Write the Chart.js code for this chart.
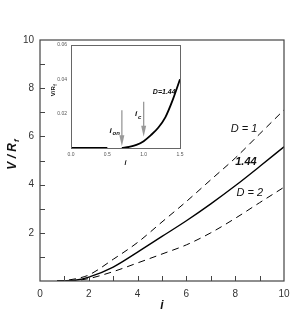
<!DOCTYPE html>
<html><head><meta charset="utf-8">
<script src="https://cdn.jsdelivr.net/npm/chart.js@4"></script>
<style>
html,body{margin:0;padding:0;background:#fff;}
#wrap{position:relative;width:304px;height:312px;}
#main{position:absolute;left:0;top:0;}
#inset{position:absolute;left:30px;top:38px;}
</style></head>
<body>
<div id="wrap">
<canvas id="main" width="304" height="312"></canvas>
<canvas id="inset" width="160" height="132"></canvas>
</div>
<script>
// ---- main chart data ----
const currentI = [0.7, 1, 1.5, 2, 3, 4, 5, 6, 7, 8, 9, 10];
const vD1   = [0, 0.02, 0.1, 0.25, 0.9, 1.6, 2.45, 3.3, 4.2, 5.1, 6.1, 7.1];
const vD144 = [0, 0.005, 0.04, 0.16, 0.58, 1.2, 1.85, 2.5, 3.2, 3.95, 4.75, 5.57];
const vD2   = [0, 0.003, 0.025, 0.1, 0.39, 0.75, 1.12, 1.5, 2.0, 2.6, 3.25, 3.89];
const xTicks = [0, 2, 4, 6, 8, 10];
const yTicks = [2, 4, 6, 8, 10];
const curveLabels = [
  {text: 'D = 1', x: 8.36, y: 6.31, font: 'italic 11px "Liberation Sans", Arial'},
  {text: '1.44',  x: 8.44, y: 4.94, font: 'bold italic 11px "Liberation Sans", Arial'},
  {text: 'D = 2', x: 8.6,  y: 3.65, font: 'italic 11px "Liberation Sans", Arial'}
];
// ---- inset data ----
const insetI = [0.7, 0.8, 0.9, 1.0, 1.1, 1.2, 1.3, 1.4, 1.5];
const insetV = [0, 0.0006, 0.0018, 0.004, 0.0075, 0.0118, 0.018, 0.028, 0.04];
const flatI = [0, 0.5];
const flatV = [0, 0];
const insetXTicks = [0, 0.5, 1.0, 1.5];
const insetYTicks = [0.02, 0.04, 0.06];
const iOn = 0.7, iC = 1.0;

const FONT = '"Liberation Sans", Arial, sans-serif';
const pts = (xs, ys) => xs.map((x, k) => ({x: x, y: ys[k]}));

const mainDecor = {
  id: 'mainDecor',
  afterDraw(chart) {
    const {ctx, chartArea: a, scales: {x, y}} = chart;
    ctx.save();
    ctx.strokeStyle = '#444';
    ctx.lineWidth = 1.2;
    ctx.strokeRect(a.left, a.top, a.right - a.left, a.bottom - a.top);
    ctx.lineWidth = 1;
    ctx.beginPath();
    for (let v = 1; v < 10; v++) {
      const px = Math.round(x.getPixelForValue(v)) + 0.5;
      ctx.moveTo(px, a.bottom); ctx.lineTo(px, a.bottom - 5);
      const py = Math.round(y.getPixelForValue(v)) + 0.5;
      ctx.moveTo(a.left, py); ctx.lineTo(a.left + 5, py);
    }
    ctx.stroke();
    // curve labels
    ctx.fillStyle = '#111';
    ctx.textAlign = 'center';
    ctx.textBaseline = 'middle';
    curveLabels.forEach(l => {
      ctx.font = l.font;
      ctx.fillText(l.text, x.getPixelForValue(l.x), y.getPixelForValue(l.y));
    });
    // x title
    ctx.font = 'bold italic 12px ' + FONT;
    ctx.fillText('i', (a.left + a.right) / 2, 306);
    // y title with subscript
    ctx.translate(12, (a.top + a.bottom) / 2 - 6);
    ctx.rotate(-Math.PI / 2);
    ctx.font = 'bold italic 12px ' + FONT;
    const t1 = 'V / R';
    const w1 = ctx.measureText(t1).width;
    ctx.font = 'bold italic 8px ' + FONT;
    const w2 = ctx.measureText('f').width;
    const start = -(w1 + w2 + 1) / 2;
    ctx.textAlign = 'left';
    ctx.textBaseline = 'alphabetic';
    ctx.font = 'bold italic 12px ' + FONT;
    ctx.fillText(t1, start, 4);
    ctx.font = 'bold italic 8px ' + FONT;
    ctx.fillText('f', start + w1 + 1, 7);
    ctx.restore();
  }
};

new Chart(document.getElementById('main'), {
  type: 'scatter',
  data: {
    datasets: [
      {data: pts(currentI, vD1), showLine: true, borderColor: '#000', borderWidth: 1, borderDash: [7, 5], pointRadius: 0, cubicInterpolationMode: 'monotone'},
      {data: pts(currentI, vD144), showLine: true, borderColor: '#000', borderWidth: 1.4, pointRadius: 0, cubicInterpolationMode: 'monotone'},
      {data: pts(currentI, vD2), showLine: true, borderColor: '#000', borderWidth: 1, borderDash: [7, 5], pointRadius: 0, cubicInterpolationMode: 'monotone'}
    ]
  },
  options: {
    responsive: false, animation: false,
    layout: {padding: {top: 40, right: 20, left: 0, bottom: 0}},
    plugins: {legend: {display: false}, tooltip: {enabled: false}},
    scales: {
      x: {
        type: 'linear', min: 0, max: 10,
        afterBuildTicks: s => { s.ticks = xTicks.map(v => ({value: v})); },
        afterFit: s => { s.height = 31; },
        grid: {display: false, drawTicks: false}, border: {display: false},
        ticks: {color: '#333', padding: 7, font: {family: FONT, size: 10}, maxRotation: 0}
      },
      y: {
        type: 'linear', min: 0, max: 10,
        afterBuildTicks: s => { s.ticks = yTicks.map(v => ({value: v})); },
        afterFit: s => { s.width = 40; },
        grid: {display: false, drawTicks: false}, border: {display: false},
        ticks: {color: '#333', padding: 6, font: {family: FONT, size: 10}}
      }
    }
  },
  plugins: [mainDecor]
});

function arrow(ctx, px, y0, y1) {
  ctx.beginPath();
  ctx.moveTo(px, y0); ctx.lineTo(px, y1 - 9);
  ctx.stroke();
  ctx.beginPath();
  ctx.moveTo(px - 2.5, y1 - 11);
  ctx.lineTo(px + 2.5, y1 - 11);
  ctx.lineTo(px, y1);
  ctx.closePath();
  ctx.fill();
}

const insetDecor = {
  id: 'insetDecor',
  beforeDraw(chart) {
    const {ctx, chartArea: a} = chart;
    ctx.save();
    ctx.fillStyle = '#fff';
    ctx.fillRect(a.left, a.top, a.right - a.left, a.bottom - a.top);
    ctx.restore();
  },
  afterDraw(chart) {
    const {ctx, chartArea: a, scales: {x, y}} = chart;
    ctx.save();
    ctx.strokeStyle = '#666';
    ctx.lineWidth = 1;
    ctx.strokeRect(a.left + 0.5, a.top + 0.5, a.right - a.left, a.bottom - a.top);
    // arrows
    ctx.strokeStyle = '#999';
    ctx.fillStyle = '#999';
    ctx.lineWidth = 1.3;
    arrow(ctx, x.getPixelForValue(iOn), y.getPixelForValue(0.022), y.getPixelForValue(0.001));
    arrow(ctx, x.getPixelForValue(iC), y.getPixelForValue(0.027), y.getPixelForValue(0.0065));
    // labels
    ctx.fillStyle = '#111';
    ctx.textBaseline = 'alphabetic';
    ctx.textAlign = 'left';
    let px = x.getPixelForValue(0.53), py = y.getPixelForValue(0.009);
    ctx.font = 'bold italic 8px ' + FONT;
    ctx.fillText('i', px, py);
    ctx.font = 'bold italic 6px ' + FONT;
    ctx.fillText('on', px + 3, py + 2.5);
    px = x.getPixelForValue(0.88); py = y.getPixelForValue(0.0185);
    ctx.font = 'bold italic 8px ' + FONT;
    ctx.fillText('i', px, py);
    ctx.font = 'bold italic 6px ' + FONT;
    ctx.fillText('c', px + 3, py + 2.5);
    ctx.font = 'bold italic 7px ' + FONT;
    ctx.textAlign = 'right';
    ctx.fillText('D=1.44', x.getPixelForValue(1.44), y.getPixelForValue(0.0315));
    // x title
    ctx.textAlign = 'center';
    ctx.font = 'bold italic 7px ' + FONT;
    ctx.fillText('i', (a.left + a.right) / 2, 127);
    // y title
    ctx.translate(23, y.getPixelForValue(0.034));
    ctx.rotate(-Math.PI / 2);
    ctx.textAlign = 'left';
    ctx.font = 'bold 6px ' + FONT;
    const w = ctx.measureText('V/R').width;
    ctx.fillText('V/R', -(w + 3) / 2, 2);
    ctx.font = 'bold 4.5px ' + FONT;
    ctx.fillText('f', -(w + 3) / 2 + w + 0.5, 4);
    ctx.restore();
  }
};

new Chart(document.getElementById('inset'), {
  type: 'scatter',
  data: {
    datasets: [
      {data: pts(flatI, flatV), showLine: true, borderColor: '#000', borderWidth: 2, pointRadius: 0},
      {data: pts(insetI, insetV), showLine: true, borderColor: '#000', borderWidth: 1.8, pointRadius: 0, cubicInterpolationMode: 'monotone'}
    ]
  },
  options: {
    responsive: false, animation: false,
    layout: {padding: {top: 7, right: 10, left: 0, bottom: 0}},
    plugins: {legend: {display: false}, tooltip: {enabled: false}},
    scales: {
      x: {
        type: 'linear', min: 0, max: 1.5,
        afterBuildTicks: s => { s.ticks = insetXTicks.map(v => ({value: v})); },
        afterFit: s => { s.height = 22; },
        grid: {display: false, drawTicks: false}, border: {display: false},
        ticks: {color: '#555', padding: 4, font: {family: FONT, size: 5}, maxRotation: 0,
          callback: v => Number(v).toFixed(1)}
      },
      y: {
        type: 'linear', min: 0, max: 0.06,
        afterBuildTicks: s => { s.ticks = insetYTicks.map(v => ({value: v})); },
        afterFit: s => { s.width = 41; },
        grid: {display: false, drawTicks: false}, border: {display: false},
        ticks: {color: '#555', padding: 4, font: {family: FONT, size: 5},
          callback: v => Number(v).toFixed(2)}
      }
    }
  },
  plugins: [insetDecor]
});
</script>
</body></html>
